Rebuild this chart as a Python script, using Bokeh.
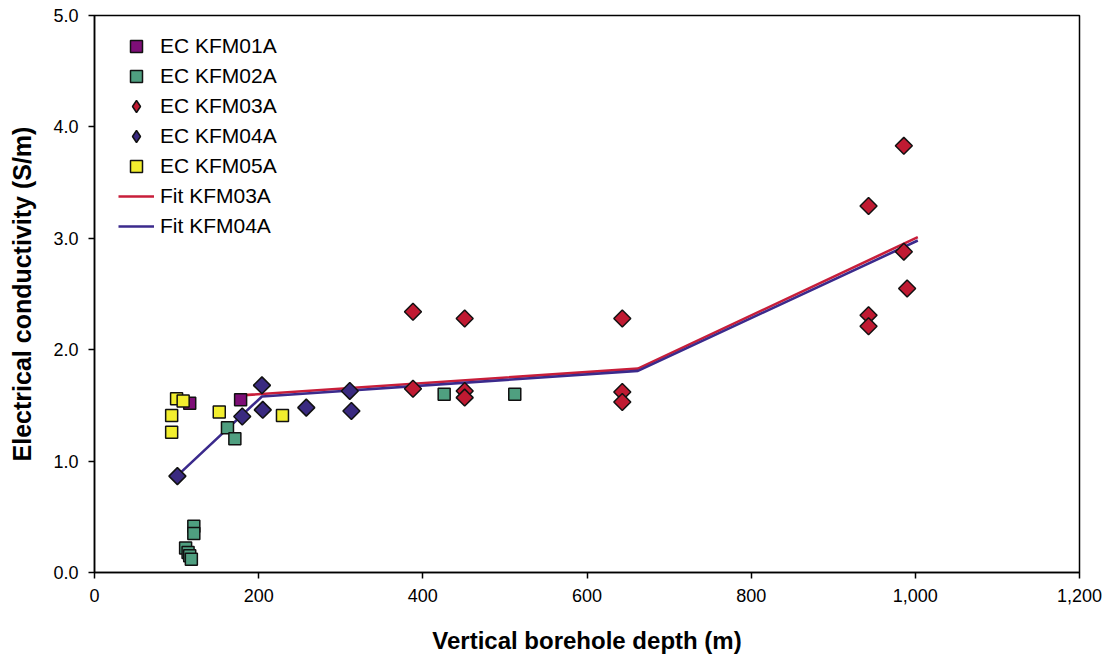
import math
from bokeh.plotting import figure
from bokeh.models import Legend, LegendItem, NumeralTickFormatter, FixedTicker, Range1d
from bokeh.embed import file_html
from bokeh.resources import INLINE

# ---- data ----
kfm01a_x = [116, 178]
kfm01a_y = [1.52, 1.55]

kfm02a_x = [162, 171, 121, 121, 111, 114, 116, 118, 426, 512]
kfm02a_y = [1.30, 1.20, 0.415, 0.35, 0.22, 0.18, 0.15, 0.12, 1.60, 1.60]

kfm03a_x = [388, 388, 451, 451, 451, 643, 643, 643, 943, 943, 943, 986, 986, 990]
kfm03a_y = [2.34, 1.65, 2.28, 1.63, 1.57, 2.28, 1.62, 1.53, 3.29, 2.31, 2.21, 3.83, 2.88, 2.55]

kfm04a_x = [101, 180, 204, 205, 258, 311, 313]
kfm04a_y = [0.865, 1.40, 1.68, 1.46, 1.48, 1.63, 1.45]

kfm05a_x = [100, 108, 94, 94, 152, 229]
kfm05a_y = [1.56, 1.54, 1.41, 1.26, 1.44, 1.41]

fit03_x = [178, 662, 1003]
fit03_y = [1.59, 1.83, 3.01]

fit04_x = [101, 204, 662, 1003]
fit04_y = [0.87, 1.58, 1.81, 2.98]

x_ticks = [0, 200, 400, 600, 800, 1000, 1200]
y_ticks = [0, 1, 2, 3, 4, 5]

FONT = "Liberation Sans"

p = figure(width=1108, height=657, output_backend="svg", toolbar_location=None,
           x_range=Range1d(0, 1200), y_range=Range1d(0, 5),
           min_border_left=94, min_border_right=29, min_border_top=15, min_border_bottom=85)

p.xgrid.visible = False
p.ygrid.visible = False
p.outline_line_color = "black"
p.outline_line_width = 1.5
p.background_fill_color = "white"
p.border_fill_color = "white"

for ax in (p.xaxis[0], p.yaxis[0]):
    ax.axis_line_color = "black"
    ax.axis_line_width = 1.5
    ax.major_tick_line_color = "black"
    ax.major_tick_line_width = 1.5
    ax.major_tick_in = 0
    ax.major_tick_out = 6
    ax.minor_tick_line_color = None
    ax.major_label_text_font = FONT
    ax.major_label_text_font_size = "18px"
    ax.major_label_text_color = "black"
    ax.axis_label_text_font = FONT
    ax.axis_label_text_font_style = "bold"
    ax.axis_label_text_color = "black"

p.xaxis.axis_label_text_font_size = "24px"
p.yaxis.axis_label_text_font_size = "25px"
p.xaxis.ticker = FixedTicker(ticks=x_ticks)
p.yaxis.ticker = FixedTicker(ticks=y_ticks)
p.xaxis.formatter = NumeralTickFormatter(format="0,0")
p.yaxis.formatter = NumeralTickFormatter(format="0.0")
p.xaxis.axis_label = "Vertical borehole depth (m)"
p.yaxis.axis_label = "Electrical conductivity (S/m)"
p.xaxis.major_label_standoff = 10
p.yaxis.major_label_standoff = 10
p.xaxis.axis_label_standoff = 22
p.yaxis.axis_label_standoff = 14

RED_LINE = "#c81e3a"
BLUE_LINE = "#3b2a8c"
EDGE = "#111111"

l03 = p.line(fit03_x, fit03_y, line_color=RED_LINE, line_width=2.6)
l04 = p.line(fit04_x, fit04_y, line_color=BLUE_LINE, line_width=2.6)

sq = 12
dm = 12
C01, C02, C03, C04, C05 = "#7e0e77", "#4f9f80", "#c01a32", "#3a2a80", "#f2ee2e"
r01 = p.scatter(kfm01a_x, kfm01a_y, marker="square", size=sq, fill_color=C01,
                line_color=EDGE, line_width=1.5)
r02 = p.scatter(kfm02a_x, kfm02a_y, marker="square", size=sq, fill_color=C02,
                line_color=EDGE, line_width=1.5)
r03 = p.scatter(kfm03a_x, kfm03a_y, marker="square", size=dm, angle=math.pi / 4,
                fill_color=C03, line_color=EDGE, line_width=1.5)
r04 = p.scatter(kfm04a_x, kfm04a_y, marker="square", size=dm, angle=math.pi / 4,
                fill_color=C04, line_color=EDGE, line_width=1.5)
r05 = p.scatter(kfm05a_x, kfm05a_y, marker="square", size=sq, fill_color=C05,
                line_color=EDGE, line_width=1.5)

# legend-only diamond glyphs (the legend does not rotate markers); NaN keeps them off the plot
nan = float("nan")
g03 = p.scatter([nan], [nan], marker="diamond", size=dm, fill_color=C03, line_color=EDGE, line_width=1.5)
g04 = p.scatter([nan], [nan], marker="diamond", size=dm, fill_color=C04, line_color=EDGE, line_width=1.5)

legend = Legend(items=[
    LegendItem(label="EC KFM01A", renderers=[r01]),
    LegendItem(label="EC KFM02A", renderers=[r02]),
    LegendItem(label="EC KFM03A", renderers=[g03]),
    LegendItem(label="EC KFM04A", renderers=[g04]),
    LegendItem(label="EC KFM05A", renderers=[r05]),
    LegendItem(label="Fit KFM03A", renderers=[l03]),
    LegendItem(label="Fit KFM04A", renderers=[l04]),
], location=(24, 331))
legend.border_line_color = None
legend.background_fill_alpha = 0
legend.margin = 0
legend.padding = 0
legend.spacing = 0
legend.glyph_width = 36
legend.glyph_height = 30
legend.label_height = 30
legend.label_standoff = 6
legend.label_text_font = FONT
legend.label_text_font_size = "21px"
legend.label_text_color = "black"
p.add_layout(legend, "center")

open("out.html", "w").write(file_html(p, INLINE))
